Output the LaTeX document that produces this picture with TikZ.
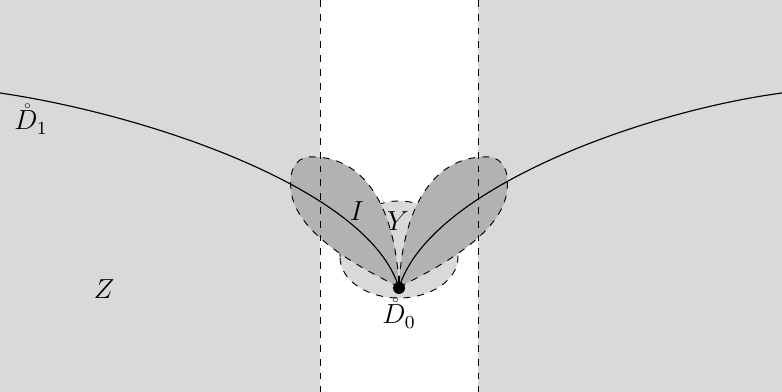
\documentclass[tikz,border=0pt]{standalone}
\begin{document}
\begin{tikzpicture}[x=0.4348pt,y=-0.4348pt,
  region/.style={fill=black!15},
  lobe/.style={fill=black!30,draw=black,dashed},
  blob/.style={fill=black!15,draw=black,dashed},
  vline/.style={draw=black,dashed},
  curve/.style={draw=black,line width=0.5pt},
  lbl/.style={inner sep=0pt,font=\large}]
\useasboundingbox (0,0) rectangle (782,392);
% gray half-planes
\fill[region] (0,0) rectangle (320,392);
\fill[region] (478,0) rectangle (782,392);
% region Y
\path[blob] (340,257) arc[start angle=180,end angle=360,x radius=59,y radius=56]
  arc[start angle=0,end angle=180,x radius=59,y radius=41] -- cycle;
% petals
\path[lobe] (399,287) .. controls (365,270) and (295,235) .. (291,190)
  .. controls (288,165) and (300,155) .. (315,157)
  .. controls (360,158) and (395,200) .. (399,287) -- cycle;
\path[lobe] (399,287) .. controls (433,270) and (503,235) .. (507,190)
  .. controls (510,165) and (498,155) .. (483,157)
  .. controls (438,158) and (403,200) .. (399,287) -- cycle;
% vertical dashed lines
\coordinate (t1) at (320,0); \coordinate (b1) at (320,392);
\coordinate (t2) at (478,0); \coordinate (b2) at (478,392);
\draw[vline] (t1) -- (b1);
\draw[vline] (t2) -- (b2);
% curves
\coordinate (D0) at (399,288);
\coordinate (L) at (0,93);
\coordinate (R) at (782,93);
\draw[curve] (L) .. controls (150,115) and (370,190) .. (D0);
\draw[curve] (D0) .. controls (428,190) and (640,112) .. (R);
\fill (D0) circle[radius=6];
% labels
\node[lbl] (d0) at (399,313) {$\mathring{D}_0$};
\node[lbl] (d1) at (31,119) {$\mathring{D}_1$};
\node[lbl] (i) at (357,211) {$I$};
\node[lbl] (y) at (398,221) {$Y$};
\node[lbl] (z) at (104,289) {$Z$};
\end{tikzpicture}
\end{document}
